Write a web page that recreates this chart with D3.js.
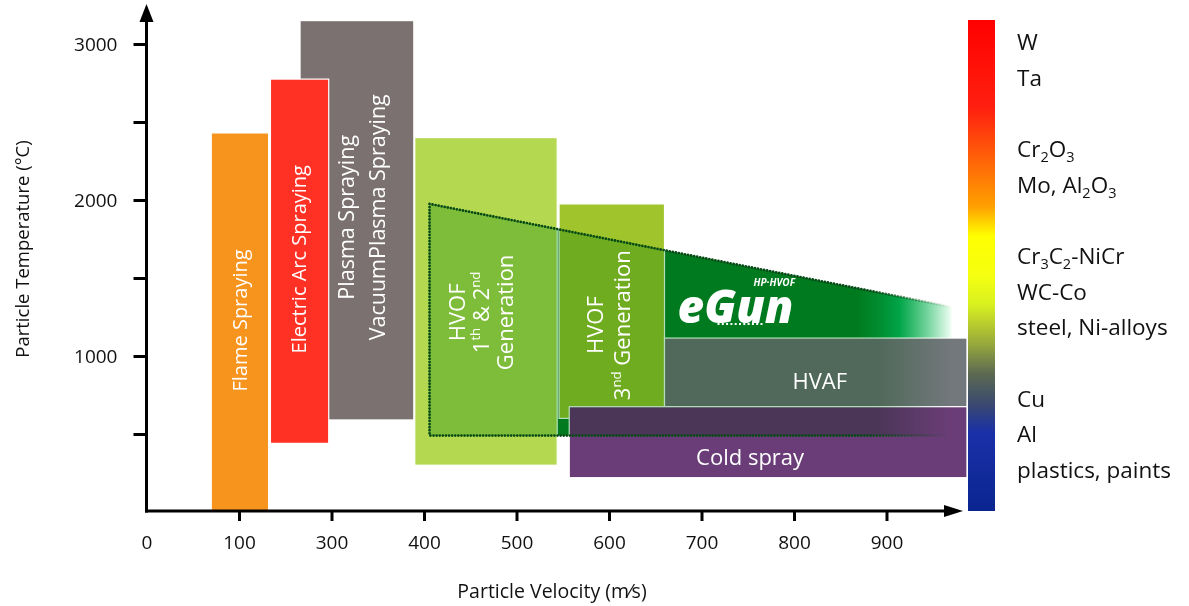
<!DOCTYPE html>
<html>
<head>
<meta charset="utf-8">
<script src="https://cdn.jsdelivr.net/npm/d3@7"></script>
<style>
  body { margin: 0; background: #fff; }
  svg { display: block; font-family: "Open Sans", sans-serif; }
</style>
</head>
<body>
<div id="container"></div>
<script>
const width = 1189;
const height = 606;

// thermal spray processes (velocity in m/s, temperature in °C)
const processNames = ["Flame Spraying", "Plasma Spraying", "Electric Arc Spraying",
  "HVOF 1st & 2nd Generation", "HVOF 3rd Generation", "HVAF", "Cold spray"];
const velMin  = [70, 166, 134, 290, 446, 560, 457];
const velMax  = [132, 289, 197, 444, 560, 887, 887];
const tempMin = [0, 590, 440, 300, 600, 675, 220];
const tempMax = [2430, 3150, 2775, 2400, 1975, 1115, 675];
const processLabels = [["Flame Spraying"], ["Plasma Spraying", "VacuumPlasma Spraying"],
  ["Electric Arc Spraying"], ["HVOF", "1^th & 2^nd", "Generation"], ["HVOF", "3^nd Generation"],
  ["HVAF"], ["Cold spray"]];

// eGun HP-HVOF window (corner points)
const egunVel  = [306, 306, 870, 870];
const egunTemp = [490, 1975, 1315, 490];

// axes
const xTicks = [0, 100, 200, 300, 400, 500, 600, 700, 800];
const xTickLabels = ["0", "100", "300", "400", "500", "600", "700", "800", "900"];
const yTicks = [500, 1000, 1500, 2000, 2500, 3000];
const yTickLabels = ["", "1000", "", "2000", "", "3000"];

// material legend (blank = gap between groups)
const materials = ["W", "Ta", "", "Cr_2O_3", "Mo, Al_2O_3", "", "Cr_3C_2-NiCr", "WC-Co",
  "steel, Ni-alloys", "", "Cu", "Al", "plastics, paints"];

const color = d3.scaleOrdinal()
  .domain(processNames)
  .range(["#f7941d", "#7a7170", "#ff3024", "#b4d84f", "#a0c42b", "#72787c", "#6b3d78"]);

const x = d3.scaleLinear().domain([0, 1000]).range([146.5, 1071.5]);
const y = d3.scaleLinear().domain([0, 3000]).range([512, 44]);

const svg = d3.select("#container")
  .append("svg")
  .attr("width", width)
  .attr("height", height);

const defs = svg.append("defs");
function grad(id, x1, x2, y1, y2, stops) {
  const g = defs.append("linearGradient").attr("id", id)
    .attr("gradientUnits", "userSpaceOnUse")
    .attr("x1", x1).attr("x2", x2).attr("y1", y1).attr("y2", y2);
  stops.forEach(s => g.append("stop").attr("offset", s[0]).attr("stop-color", s[1])
    .attr("stop-opacity", s[2] === undefined ? 1 : s[2]));
}
const ex1 = x(egunVel[0]), ex2 = x(egunVel[2]);
grad("egunFill", ex1, ex2, 0, 0, [[0, "#008b29"], [0.82, "#008b29"], [0.9, "#00b458"], [1, "#f0fff4"]]);
grad("egunTint", ex1, ex2, 0, 0, [[0, "#b3e0ba"], [0.86, "#b3e0ba"], [1, "#ffffff"]]);
grad("egunDots", ex1, ex2, 0, 0, [[0, "#064a16"], [0.84, "#064a16"], [1, "#064a16", 0]]);
grad("bar", 0, 0, 20, 511, [[0, "#ff0000"], [0.18, "#ff2010"], [0.28, "#ff6008"], [0.38, "#ffa000"],
  [0.44, "#ffff00"], [0.52, "#f5ff10"], [0.58, "#d8f020"], [0.66, "#97a83c"], [0.72, "#5c6a52"],
  [0.78, "#3c4a6e"], [0.84, "#1a30a8"], [1, "#0a2590"]]);

const egunPts = egunVel.map((v, i) => [x(v), y(egunTemp[i])]);

// solid eGun area (shows where no process box covers it)
svg.append("polygon")
  .attr("points", egunPts.map(p => p.join(",")).join(" "))
  .attr("fill", "url(#egunFill)");

// process boxes
svg.selectAll("rect.proc")
  .data(processNames)
  .enter()
  .append("rect")
  .attr("class", "proc")
  .attr("x", (d, i) => x(velMin[i]))
  .attr("y", (d, i) => y(tempMax[i]))
  .attr("width", (d, i) => x(velMax[i]) - x(velMin[i]))
  .attr("height", (d, i) => y(tempMin[i]) - y(tempMax[i]))
  .attr("fill", d => color(d))
  .attr("stroke", "#fff")
  .attr("stroke-width", 1.2);

// green tint of the eGun window over the boxes
svg.append("polygon")
  .attr("points", egunPts.map(p => p.join(",")).join(" "))
  .attr("fill", "url(#egunTint)")
  .style("mix-blend-mode", "multiply");

svg.append("path")
  .attr("d", d3.line()([egunPts[3], egunPts[0], egunPts[1], egunPts[2]]))
  .attr("fill", "none")
  .attr("stroke", "url(#egunDots)")
  .attr("stroke-width", 2.8)
  .attr("stroke-linecap", "round")
  .attr("stroke-dasharray", "0 3.1");

// text with ^super and _sub parts
function rich(text, str, small, shift) {
  let cur = 0;
  str.split(/(\^[a-z]+|_\d)/).filter(Boolean).forEach(p => {
    let target = 0, s = p, size = null;
    if (p[0] === "^") { target = -shift; s = p.slice(1); size = small; }
    if (p[0] === "_") { target = shift * 0.7; s = p.slice(1); size = small; }
    const t = text.append("tspan").attr("dy", target - cur).text(s);
    if (size) t.attr("font-size", size);
    cur = target;
  });
}

// box labels: [dx, dy, font size, line step, rotated]
const labelStyle = [[0, -2, 20, 0, true], [5, -3, 21.5, 31, true], [-1, -2, 20, 0, true],
  [-5, 11, 22, 24, true], [-3, 14, 22, 27, true], [4, 9, 22, 0, false], [-18, 15, 22, 0, false]];

processNames.forEach((name, i) => {
  const [dx, dy, fs, step, rot] = labelStyle[i];
  const cx = (x(velMin[i]) + x(velMax[i])) / 2 + dx;
  const cy = (y(tempMin[i]) + y(tempMax[i])) / 2 + dy;
  const g = svg.append("g").attr("transform", `translate(${cx},${cy})` + (rot ? " rotate(-90)" : ""));
  const lines = processLabels[i];
  lines.forEach((ln, j) => {
    const t = g.append("text")
      .attr("x", 0)
      .attr("y", (j - (lines.length - 1) / 2) * step + fs * 0.36)
      .attr("text-anchor", "middle")
      .attr("fill", "#fff")
      .attr("font-weight", 500)
      .attr("font-size", fs);
    rich(t, ln, fs * 0.6, fs * 0.4);
  });
});

// eGun logo
const lx = x(velMin[5]) + 13, ly = y(tempMax[5]) - 15;
svg.append("text").attr("x", lx).attr("y", ly)
  .attr("fill", "#fff").attr("font-size", 46).attr("font-weight", 800)
  .attr("font-style", "italic").attr("letter-spacing", 0).text("eGun");
svg.append("text").attr("x", lx + 76).attr("y", ly - 37)
  .attr("fill", "#fff").attr("font-size", 10).attr("font-weight", 700)
  .attr("font-style", "italic").text("HP·HVOF");
svg.append("line")
  .attr("x1", lx + 40).attr("x2", lx + 86).attr("y1", ly + 1).attr("y2", ly + 1)
  .attr("stroke", "#fff").attr("stroke-width", 2)
  .attr("stroke-dasharray", "2 2.3");

// y axis
const yAxis = svg.append("g")
  .attr("transform", `translate(${x(0)},0)`)
  .call(d3.axisLeft(y).tickValues(yTicks).tickSize(13).tickPadding(16)
    .tickFormat((d, i) => yTickLabels[i]));
yAxis.select(".domain").remove();
yAxis.selectAll(".tick line").attr("stroke", "#000").attr("stroke-width", 3);
yAxis.selectAll(".tick text").attr("font-size", 19).attr("font-family", "Open Sans").attr("fill", "#111");

// x axis
const xAxis = svg.append("g")
  .attr("transform", `translate(0,${y(0) - 1})`)
  .call(d3.axisBottom(x).tickValues(xTicks).tickSize(10).tickPadding(15)
    .tickFormat((d, i) => xTickLabels[i]));
xAxis.select(".domain").remove();
xAxis.selectAll(".tick line").attr("stroke", "#000").attr("stroke-width", 3)
  .filter(d => d === 0).remove();
xAxis.selectAll(".tick text").attr("font-size", 19).attr("font-family", "Open Sans").attr("fill", "#111");

// axis lines with arrows
svg.append("line")
  .attr("x1", x(0)).attr("x2", x(0)).attr("y1", y(0) + 0.5).attr("y2", 20)
  .attr("stroke", "#000").attr("stroke-width", 3);
svg.append("path")
  .attr("d", `M${x(0) - 7},22 L${x(0)},4 L${x(0) + 7},22 Z`)
  .attr("fill", "#000");
svg.append("line")
  .attr("x1", x(0) - 1.5).attr("x2", 946).attr("y1", y(0) - 1).attr("y2", y(0) - 1)
  .attr("stroke", "#000").attr("stroke-width", 3);
svg.append("path")
  .attr("d", `M944,${y(0) - 7} L963,${y(0) - 1} L944,${y(0) + 5} Z`)
  .attr("fill", "#000");

// axis titles
svg.append("text")
  .attr("transform", "translate(29,249) rotate(-90)")
  .attr("text-anchor", "middle")
  .attr("font-size", 18.5)
  .attr("fill", "#111")
  .text("Particle Temperature (°C)");
svg.append("text")
  .attr("x", 552).attr("y", 598)
  .attr("text-anchor", "middle")
  .attr("font-size", 19.5)
  .attr("fill", "#111")
  .text("Particle Velocity (m⁄s)");

// colour bar and materials
svg.append("rect")
  .attr("x", 968).attr("y", 20).attr("width", 27).attr("height", 491)
  .attr("fill", "url(#bar)");

const row = d3.scalePoint().domain(d3.range(materials.length)).range([50, 478]);
materials.forEach((m, i) => {
  if (!m) return;
  const t = svg.append("text")
    .attr("x", 1017).attr("y", row(i))
    .attr("font-size", 22.5)
    .attr("fill", "#111");
  rich(t, m, 14.5, 7);
});
</script>
</body>
</html>
